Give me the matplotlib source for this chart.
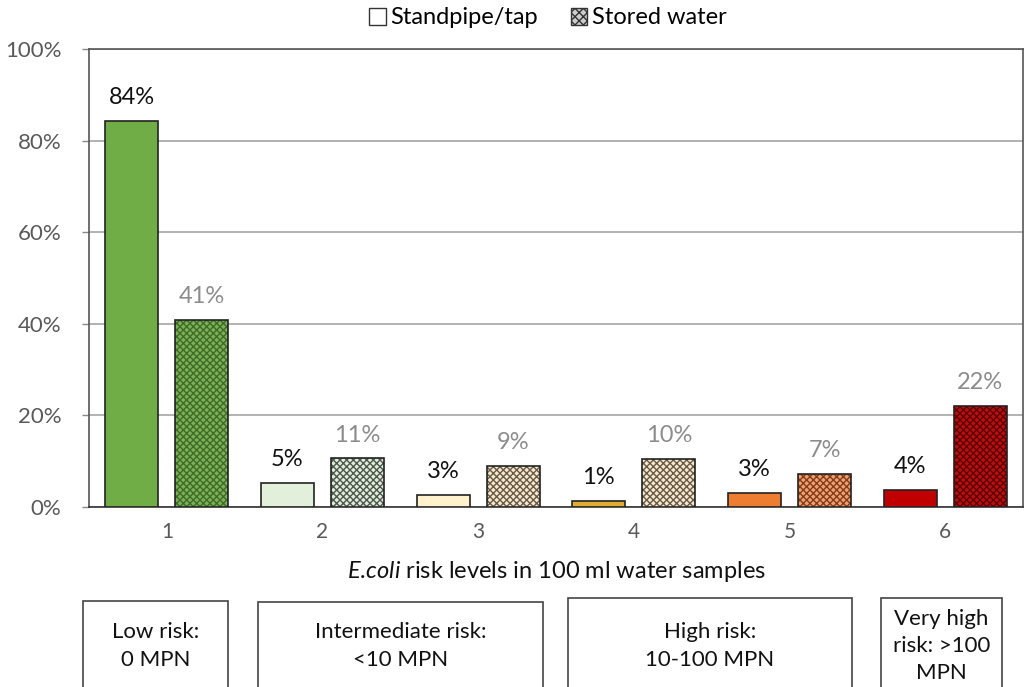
import matplotlib.pyplot as plt
from matplotlib.patches import Patch, Rectangle
import numpy as np

plt.rcParams['font.family'] = ['Lato', 'DejaVu Sans']
plt.rcParams['mathtext.fontset'] = 'custom'
plt.rcParams['mathtext.it'] = 'Lato:italic'
plt.rcParams['mathtext.rm'] = 'Lato'
plt.rcParams['hatch.linewidth'] = 1.0

# data
levels = ['1', '2', '3', '4', '5', '6']
standpipe = [84.3, 5.3, 2.7, 1.3, 3.0, 3.7]
stored = [40.9, 10.6, 8.9, 10.5, 7.3, 22.0]
standpipe_lbl = ['84%', '5%', '3%', '1%', '3%', '4%']
stored_lbl = ['41%', '11%', '9%', '10%', '7%', '22%']
yticks = [0, 20, 40, 60, 80, 100]

# colours per risk level
tap_colors = ['#70AD47', '#E2EFDA', '#FFF2CC', '#E0AC33', '#ED7D31', '#C00000']
stored_face = ['#7DB05A', '#E4EADF', '#F3E9D6', '#F3E9D6', '#E9A37A', '#B81010']
stored_hatch = ['#3E6B25', '#4A5A4A', '#6B5A40', '#6B5A40', '#8A3A10', '#600000']

risk_boxes = [
    ('Low risk:\n0 MPN', 83, 228, 601),
    ('Intermediate risk:\n<10 MPN', 258, 543, 602),
    ('High risk:\n10-100 MPN', 568, 852, 598),
    ('Very high\nrisk: >100\nMPN', 881, 1002, 598),
]

W, H = 1028, 687
fig = plt.figure(figsize=(W / 100, H / 100), dpi=100)
ax = fig.add_axes([89 / W, 1 - 507 / H, (1023 - 89) / W, (507 - 49) / H])

x = np.arange(len(levels))
bw = 0.34
off = 0.225

for i in range(len(levels)):
    ax.bar(x[i] - off, standpipe[i], bw, color=tap_colors[i], edgecolor='#222222',
           linewidth=1.2, zorder=3)
    ax.bar(x[i] + off, stored[i], bw, color=stored_face[i], edgecolor=stored_hatch[i],
           hatch='xxxxx', linewidth=0, zorder=3)
    ax.bar(x[i] + off, stored[i], bw, fill=False, edgecolor='#222222',
           linewidth=1.2, zorder=4)
    ax.text(x[i] - off, standpipe[i] + 2.8, standpipe_lbl[i], ha='center', va='bottom',
            fontsize=17, color='#111111')
    ax.text(x[i] + off, stored[i] + 2.8, stored_lbl[i], ha='center', va='bottom',
            fontsize=17, color='#8C8C8C')

ax.set_xlim(-0.5, len(levels) - 0.5)
ax.set_ylim(0, 100)
ax.set_yticks(yticks)
ax.set_yticklabels([f'{t}%' for t in yticks], fontsize=16, color='#595959')
ax.set_xticks(x)
ax.set_xticklabels(levels, fontsize=15, color='#595959')
ax.tick_params(axis='x', length=0, pad=11)
ax.tick_params(axis='y', length=5, width=1, color='#888888', pad=15)
ax.yaxis.grid(True, color='#A6A6A6', linewidth=1.2, zorder=0)
ax.set_axisbelow(True)
for s in ax.spines.values():
    s.set_color('#555555')
    s.set_linewidth(1.2)
ax.spines['bottom'].set_color('#333333')

ax.set_xlabel(r'$E.\!coli$ risk levels in 100 ml water samples', fontsize=17,
              color='#111111', labelpad=12)

handles = [Patch(facecolor='white', edgecolor='#333333', label='Standpipe/tap'),
           Patch(facecolor='#CCCCCC', edgecolor='#333333', hatch='xxxx', label='Stored water')]
fig.legend(handles=handles, loc='center', bbox_to_anchor=(548 / W, 1 - 18 / H), ncol=2,
           frameon=False, fontsize=17, handlelength=0.7, handleheight=0.7,
           handletextpad=0.2, columnspacing=1.4)

for txt, x0, x1, y0 in risk_boxes:
    fig.patches.append(Rectangle((x0 / W, -0.05), (x1 - x0) / W, 1 - y0 / H + 0.05,
                                 transform=fig.transFigure, fill=False,
                                 edgecolor='#444444', linewidth=1.2))
    fig.text((x0 + x1) / 2 / W, 1 - 646 / H, txt, ha='center', va='center',
             fontsize=16, color='#111111', linespacing=1.45)

fig.savefig('out.png', dpi=100)
